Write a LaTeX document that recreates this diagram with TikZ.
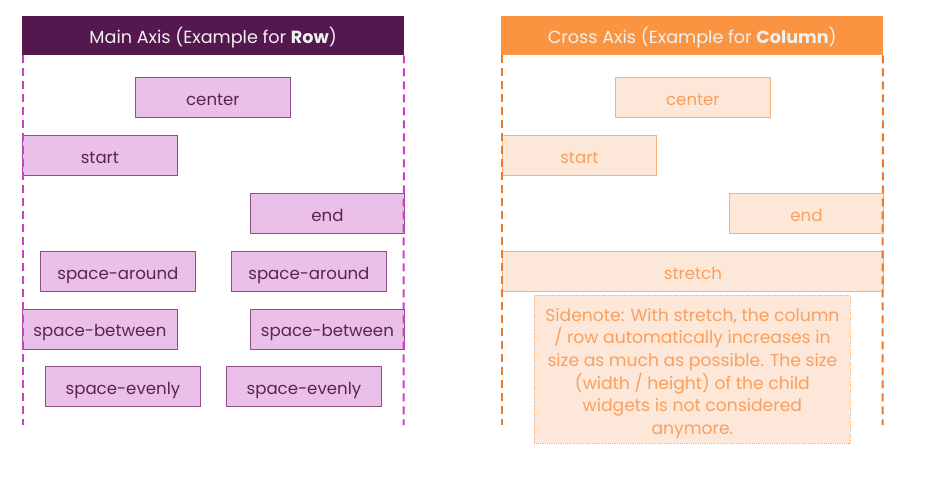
\documentclass[tikz,border=0pt]{standalone}
\usepackage{fontspec}
\setmainfont{Poppins}
\definecolor{pdark}{HTML}{54184F}
\definecolor{pfill}{HTML}{EBC0E8}
\definecolor{pline}{HTML}{8E4E88}
\definecolor{ptext}{HTML}{5A2352}
\definecolor{pdash}{HTML}{CC3FCC}
\definecolor{odark}{HTML}{FB9441}
\definecolor{ofill}{HTML}{FDE7D8}
\definecolor{oline}{HTML}{FBB27A}
\definecolor{otext}{HTML}{F9A05E}
\definecolor{odash}{HTML}{EA7A2C}
\begin{document}
\begin{tikzpicture}[x=1pt,y=-1pt,
  hdr/.style={anchor=north west,minimum width=382pt,minimum height=39pt,inner sep=0pt,text height=18pt,text depth=2pt,text=white!94!black,font=\fontsize{17.6}{20}\selectfont},
  bx/.style={anchor=north west,line width=0.8pt,minimum width=155pt,minimum height=40pt,inner sep=0pt,text height=17.5pt,text depth=2pt,font=\fontsize{16.6}{19}\selectfont},
  pbox/.style={bx,draw=pline,fill=pfill,text=ptext},
  obox/.style={bx,draw=oline,fill=ofill,text=otext},
  pguide/.style={draw=pdash,line width=2pt,dash pattern=on 8pt off 5pt},
  oguide/.style={draw=odash,line width=2pt,dash pattern=on 8pt off 5pt}]
\useasboundingbox (0,0) rectangle (925,477);
% left panel
\node[hdr,fill=pdark] (lh) at (22,16) {Main Axis (Example for \textbf{Row})};
\coordinate (la) at (22.5,425);
\coordinate (lb) at (403.5,425);
\node[pbox] (c1) at (135,77) {center};
\node[pbox] (s1) at (22,135) {start};
\node[pbox,minimum width=154pt] (e1) at (250,193) {end};
\node[pbox] (a1) at (40,251) {space-around};
\node[pbox] (a2) at (231,251) {space-around};
\node[pbox] (b1) at (22,308.5) {space-between};
\node[pbox,minimum width=154pt] (b2) at (250,308.5) {space-between};
\node[pbox] (v1) at (45,366) {space-evenly};
\node[pbox] (v2) at (226,366) {space-evenly};
\draw[pguide] (lh.south west) ++(0.5,0) -- (la);
\draw[pguide] (lh.south east) ++(-0.5,0) -- (lb);
% right panel
\node[hdr,fill=odark,minimum width=382pt] (rh) at (501,16) {Cross Axis (Example for \textbf{Column})};
\coordinate (ra) at (502,425);
\coordinate (rb) at (882.5,425);
\node[obox] (c2) at (615,77) {center};
\node[obox,minimum width=154pt] (s2) at (502,135) {start};
\node[obox,minimum width=154pt] (e2) at (729,193) {end};
\node[obox,minimum width=381pt] (st) at (502,251) {stretch};
\node[anchor=north west,draw=oline,fill=ofill,densely dotted,line width=0.8pt,minimum width=316pt,minimum height=148pt,inner sep=0pt] (sn) at (534,295) {};
\node[text=otext,align=center,font=\fontsize{17.2}{22.6}\selectfont,yshift=-4pt] (snt) at (sn.center) {Sidenote: With stretch, the column\\/ row automatically increases in\\size as much as possible. The size\\(width / height) of the child\\widgets is not considered\\anymore.};
\draw[oguide] (rh.south west) ++(1,0) -- (ra);
\draw[oguide] (rh.south east) ++(-0.5,0) -- (rb);
\end{tikzpicture}
\end{document}
